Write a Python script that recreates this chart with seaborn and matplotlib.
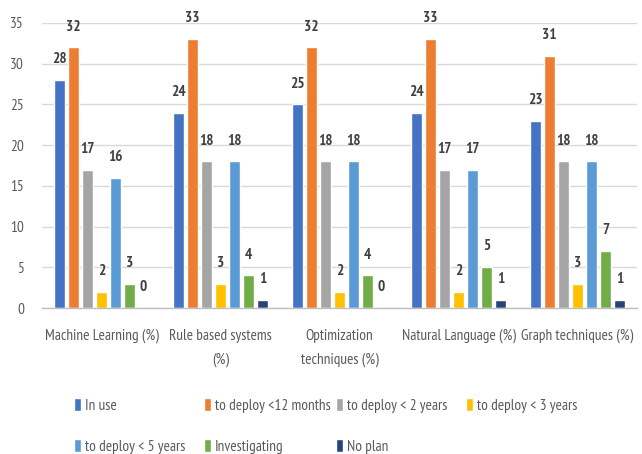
import matplotlib
matplotlib.use("Agg")
import matplotlib.pyplot as plt
import seaborn as sns
import pandas as pd

categories = ["Machine Learning (%)", "Rule based systems\n(%)", "Optimization\ntechniques (%)",
              "Natural Language (%)", "Graph techniques (%)"]
series = ["In use", "to deploy <12 months", "to deploy < 2 years", "to deploy < 3 years",
          "to deploy < 5 years", "Investigating", "No plan"]
in_use = [28, 24, 25, 24, 23]
deploy_12m = [32, 33, 32, 33, 31]
deploy_2y = [17, 18, 18, 17, 18]
deploy_3y = [2, 3, 2, 2, 3]
deploy_5y = [16, 18, 18, 17, 18]
investigating = [3, 4, 4, 5, 7]
no_plan = [0, 1, 0, 1, 1]
colors = ["#4472C4", "#ED7D31", "#A5A5A5", "#FFC000", "#5B9BD5", "#70AD47", "#264478"]

values = [in_use, deploy_12m, deploy_2y, deploy_3y, deploy_5y, investigating, no_plan]
rows = []
for s, vals in zip(series, values):
    for c, v in zip(categories, vals):
        rows.append({"category": c, "series": s, "value": v})
df = pd.DataFrame(rows)

sns.set_theme(style="white")
plt.rcParams["font.family"] = ["PT Sans Narrow", "Carlito", "DejaVu Sans"]

fig = plt.figure(figsize=(6.42, 4.54), dpi=100)
ax = fig.add_axes([42 / 642, 1 - 308 / 454, 595 / 642, 285 / 454])

sns.barplot(data=df, x="category", y="value", hue="series", order=categories,
            hue_order=series, palette=colors, width=0.82, gap=0.25,
            saturation=1, errorbar=None, legend=True, ax=ax)

# value labels above each bar
for cont, vals in zip(ax.containers, values):
    for bar, v in zip(cont, vals):
        ax.annotate(f"{v}", (bar.get_x() + bar.get_width() / 2, v),
                    xytext=(0, 15), textcoords="offset points",
                    ha="center", va="center", fontsize=11,
                    fontweight="bold", color="#404040")

ax.set_ylim(0, 35)
ax.set_xlim(-0.5, 4.5)
ax.set_yticks(range(0, 36, 5))
ax.yaxis.grid(True, color="#D9D9D9", linewidth=1)
ax.set_axisbelow(True)
for side in ["left", "top", "right"]:
    ax.spines[side].set_visible(False)
ax.spines["bottom"].set_color("#BFBFBF")
ax.spines["bottom"].set_linewidth(1)
ax.tick_params(axis="both", length=0, colors="#595959", labelsize=11)
ax.tick_params(axis="y", pad=13)
ax.tick_params(axis="x", pad=15)
for lab in ax.get_xticklabels():
    lab.set_linespacing(1.85)
ax.set_xlabel("")
ax.set_ylabel("")

# legend laid out in four evenly spaced columns
handles, labels = ax.get_legend_handles_labels()
ax.get_legend().remove()
columns = [[0, 4], [1, 5], [2, 6], [3]]
col_x = [74, 204, 336, 466]
for idx, x in zip(columns, col_x):
    leg = fig.legend([handles[i] for i in idx], [labels[i] for i in idx],
                     loc="upper left", bbox_to_anchor=(x / 642, 1 - 398 / 454),
                     ncol=1, frameon=False, fontsize=11, handlelength=0.45,
                     handleheight=0.9, handletextpad=0.25,
                     labelspacing=1.75, borderpad=0, borderaxespad=0)
    for t in leg.get_texts():
        t.set_color("#595959")

fig.savefig("out.png", dpi=100)
